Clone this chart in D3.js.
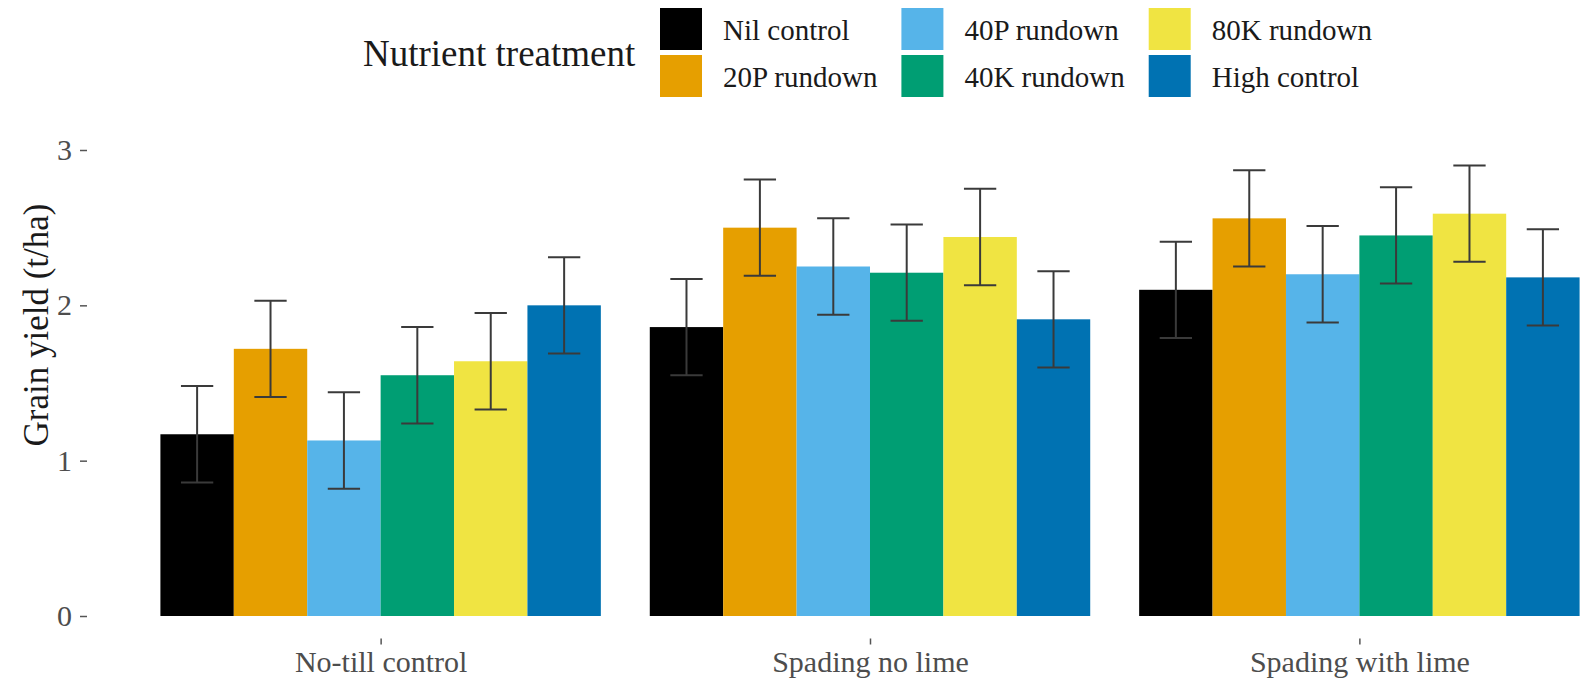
<!DOCTYPE html>
<html>
<head>
<meta charset="utf-8">
<script src="https://cdn.jsdelivr.net/npm/d3@7"></script>
<style>
  body { margin: 0; background: #fff; }
  text { font-family: "Liberation Serif", "Times New Roman", serif; }
</style>
</head>
<body>
<div id="chart"></div>
<script>
var width = 1581;
var height = 681;

var systems = ["No-till control", "Spading no lime", "Spading with lime"];
var treatments = ["Nil control", "20P rundown", "40P rundown", "40K rundown", "80K rundown", "High control"];
var colours = ["#000000", "#E69F00", "#56B4E9", "#009E73", "#F0E442", "#0072B2"];

// mean grain yield (t/ha), one array per tillage system, in treatment order
var noTill = [1.17, 1.72, 1.13, 1.55, 1.64, 2.00];
var spadingNoLime = [1.86, 2.50, 2.25, 2.21, 2.44, 1.91];
var spadingLime = [2.10, 2.56, 2.20, 2.45, 2.59, 2.18];
// error bar half-widths
var errNoTill = [0.31, 0.31, 0.31, 0.31, 0.31, 0.31];
var errSpadingNoLime = [0.31, 0.31, 0.31, 0.31, 0.31, 0.31];
var errSpadingLime = [0.31, 0.31, 0.31, 0.31, 0.31, 0.31];
var yTicks = [0, 1, 2, 3];

var means = [noTill, spadingNoLime, spadingLime];
var errs = [errNoTill, errSpadingNoLime, errSpadingLime];

var rows = [];
systems.forEach(function(s, i) {
  treatments.forEach(function(t, j) {
    rows.push({ system: s, treatment: t, value: means[i][j], err: errs[i][j] });
  });
});

var panelLeft = 87;
var panelRight = 1653; // panel runs past the right edge of the picture
var panelBottom = 638.5;

var svg = d3.select("#chart")
  .append("svg")
  .attr("width", width)
  .attr("height", height);

var x0 = d3.scalePoint()
  .domain(systems)
  .range([panelLeft, panelRight])
  .padding(0.6);

var x1 = d3.scaleBand()
  .domain(treatments)
  .range([-0.45 * x0.step(), 0.45 * x0.step()]);

var y = d3.scaleLinear()
  .domain([0, 3])
  .range([616, 150]);

var color = d3.scaleOrdinal()
  .domain(treatments)
  .range(colours);

// bars
svg.append("g")
  .selectAll("rect")
  .data(rows)
  .enter().append("rect")
  .attr("x", function(d) { return x0(d.system) + x1(d.treatment); })
  .attr("y", function(d) { return y(d.value); })
  .attr("width", x1.bandwidth())
  .attr("height", function(d) { return y(0) - y(d.value); })
  .attr("fill", function(d) { return color(d.treatment); });

// error bars
var cap = x1.bandwidth() * 0.22;
var eb = svg.append("g")
  .attr("stroke", "#3a3a3a")
  .attr("stroke-width", 2)
  .selectAll("g")
  .data(rows)
  .enter().append("g")
  .attr("transform", function(d) {
    return "translate(" + (x0(d.system) + x1(d.treatment) + x1.bandwidth() / 2) + ",0)";
  });

eb.append("line")
  .attr("y1", function(d) { return y(d.value + d.err); })
  .attr("y2", function(d) { return y(d.value - d.err); });
eb.append("line")
  .attr("x1", -cap).attr("x2", cap)
  .attr("y1", function(d) { return y(d.value + d.err); })
  .attr("y2", function(d) { return y(d.value + d.err); });
eb.append("line")
  .attr("x1", -cap).attr("x2", cap)
  .attr("y1", function(d) { return y(d.value - d.err); })
  .attr("y2", function(d) { return y(d.value - d.err); });

// axes
var yAxis = svg.append("g")
  .attr("transform", "translate(" + panelLeft + ",0)")
  .call(d3.axisLeft(y).tickValues(yTicks).tickFormat(d3.format("d")).tickSize(7).tickPadding(8));
yAxis.select(".domain").remove();
yAxis.selectAll("line").attr("stroke", "#555").attr("stroke-width", 1.5);
yAxis.selectAll("text")
  .attr("fill", "#4d4d4d")
  .style("font-size", "30px")
  .style("font-family", "Liberation Serif, serif");

var xAxis = svg.append("g")
  .attr("transform", "translate(0," + panelBottom + ")")
  .call(d3.axisBottom(x0).tickSize(6).tickPadding(6));
xAxis.select(".domain").remove();
xAxis.selectAll("line").attr("stroke", "#555").attr("stroke-width", 1.5);
xAxis.selectAll("text")
  .attr("fill", "#4d4d4d")
  .style("font-size", "30px")
  .style("font-family", "Liberation Serif, serif");

// y axis title
svg.append("text")
  .attr("transform", "translate(36,325) rotate(-90)")
  .attr("text-anchor", "middle")
  .attr("dominant-baseline", "central")
  .attr("fill", "#1a1a1a")
  .style("font-size", "35px")
  .text("Grain yield (t/ha)");

// legend
var legend = svg.append("g");
legend.append("text")
  .attr("x", 363)
  .attr("y", 66)
  .attr("fill", "#1a1a1a")
  .style("font-size", "37px")
  .text("Nutrient treatment");

var keySize = 42;
var keyX = 660;
for (var c = 0; c < 3; c++) {
  var maxW = 0;
  for (var r = 0; r < 2; r++) {
    var k = c * 2 + r;
    var ky = 8 + r * 47;
    legend.append("rect")
      .attr("x", keyX)
      .attr("y", ky)
      .attr("width", keySize)
      .attr("height", keySize)
      .attr("fill", colours[k]);
    var t = legend.append("text")
      .attr("x", keyX + 63)
      .attr("y", ky + keySize / 2 + 1)
      .attr("dominant-baseline", "central")
      .attr("fill", "#1a1a1a")
      .style("font-size", "29px")
      .text(treatments[k]);
    maxW = Math.max(maxW, t.node().getComputedTextLength());
  }
  keyX = keyX + 63 + maxW + 24;
}
</script>
</body>
</html>
